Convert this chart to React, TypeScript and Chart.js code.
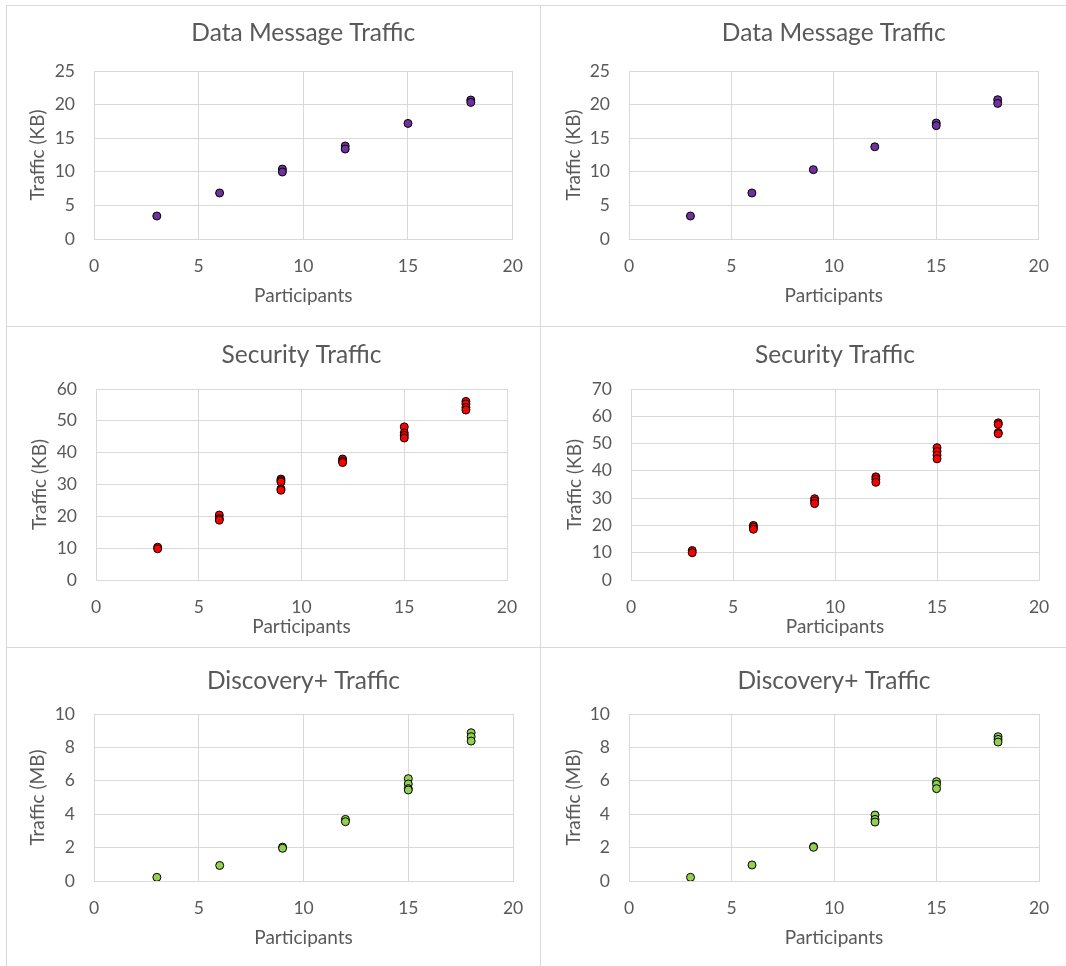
import React, { useEffect, useRef } from "react";
import { Chart, registerables } from "chart.js";

Chart.register(...registerables);

// ---------- data ----------
const participants = [3, 6, 9, 12, 15, 18];

const dataMsgLeft = [[3.42], [6.85], [10.4, 9.97], [13.84, 13.39], [17.2], [20.68, 20.33]];
const dataMsgRight = [[3.42], [6.85], [10.32], [13.72], [17.26, 16.87], [20.73, 20.18]];

const securityLeft = [
  [10.3, 9.8],
  [20.4, 19.3, 18.8],
  [31.7, 31.2, 30.8, 28.6, 28.2],
  [38.0, 37.4, 36.9],
  [48.1, 46.2, 45.4, 44.6],
  [56.1, 55.3, 54.2, 53.4],
];
const securityRight = [
  [10.8, 10.0],
  [20.0, 19.4, 18.6],
  [29.8, 29.0, 28.0],
  [37.8, 36.9, 35.8],
  [48.5, 47.1, 45.7, 44.4],
  [57.6, 57.0, 54.0, 53.6],
];

const discoveryLeft = [
  [0.22],
  [0.93],
  [2.03, 1.96],
  [3.69, 3.55],
  [6.13, 5.81, 5.53, 5.45],
  [8.88, 8.64, 8.38],
];
const discoveryRight = [
  [0.22],
  [0.96],
  [2.06, 2.02],
  [3.95, 3.69, 3.53],
  [5.95, 5.79, 5.53],
  [8.64, 8.48, 8.32],
];

const xTicks = [0, 5, 10, 15, 20];
const titles = ["Data Message Traffic", "Security Traffic", "Discovery+ Traffic"];
const yTitles = ["Traffic (KB)", "Traffic (KB)", "Traffic (MB)"];
const xTitle = "Participants";

// ---------- styling ----------
const FONT = "Lato, 'Open Sans', sans-serif";
const TEXT = "#595959";
const GRID = "#d9d9d9";
const TITLE_SIZE = 24.5;
const TICK_SIZE = 17.5;
const AXIS_TITLE_SIZE = 19;
const LH = 1.2;

function toPoints(vals: number[][]) {
  const pts: { x: number; y: number }[] = [];
  participants.forEach((p, i) => vals[i].forEach((v) => pts.push({ x: p, y: v })));
  return pts;
}

type Panel = {
  title: string;
  yTitle: string;
  values: number[][];
  color: string;
  yMax: number;
  yStep: number;
  canvas: [number, number, number, number]; // left, top, width, height
  plot: [number, number, number, number]; // left, right, top, bottom
  titleCY: number;
  yTitleCX: number;
  xTickCY: number;
  xTitleCY: number;
};

const PURPLE = "#7030A0";
const RED = "#FF0000";
const GREEN = "#92D050";

const panels: Panel[] = [
  {
    title: titles[0], yTitle: yTitles[0], values: dataMsgLeft, color: PURPLE, yMax: 25, yStep: 5,
    canvas: [6, 5, 534, 321], plot: [94.4, 513.8, 71, 239],
    titleCY: 33.3, yTitleCX: 37.9, xTickCY: 266.7, xTitleCY: 296,
  },
  {
    title: titles[0], yTitle: yTitles[0], values: dataMsgRight, color: PURPLE, yMax: 25, yStep: 5,
    canvas: [540, 5, 526, 321], plot: [629.1, 1048.3, 71, 239],
    titleCY: 33.3, yTitleCX: 573.4, xTickCY: 266.7, xTitleCY: 296,
  },
  {
    title: titles[1], yTitle: yTitles[1], values: securityLeft, color: RED, yMax: 60, yStep: 10,
    canvas: [6, 326, 534, 321], plot: [96.1, 507.2, 389.3, 580],
    titleCY: 355, yTitleCX: 39.6, xTickCY: 607.3, xTitleCY: 627.3,
  },
  {
    title: titles[1], yTitle: yTitles[1], values: securityRight, color: RED, yMax: 70, yStep: 10,
    canvas: [540, 326, 526, 321], plot: [630.9, 1042.8, 389.3, 580],
    titleCY: 355, yTitleCX: 574.4, xTickCY: 607.3, xTitleCY: 627.3,
  },
  {
    title: titles[2], yTitle: yTitles[2], values: discoveryLeft, color: GREEN, yMax: 10, yStep: 2,
    canvas: [6, 647, 534, 319], plot: [94.4, 513.8, 714, 881],
    titleCY: 680.7, yTitleCX: 37.9, xTickCY: 908.3, xTitleCY: 937.7,
  },
  {
    title: titles[2], yTitle: yTitles[2], values: discoveryRight, color: GREEN, yMax: 10, yStep: 2,
    canvas: [540, 647, 526, 319], plot: [629.1, 1048.3, 714, 881],
    titleCY: 680.7, yTitleCX: 573.4, xTickCY: 908.3, xTitleCY: 937.7,
  },
];

function buildConfig(p: Panel): any {
  const [cl, ct, cw, ch] = p.canvas;
  const [pl, pr, pt, pb] = p.plot;
  const titleLH = TITLE_SIZE * LH;
  const tickLH = TICK_SIZE * LH;
  const axLH = AXIS_TITLE_SIZE * LH;
  const yAxisW = Math.round(pl - cl);
  const rightPad = Math.round(cl + cw - pr);
  const titleBoxH = Math.round(pt - ct);
  const xAxisH = Math.round(ct + ch - pb);
  const titlePadTop = p.titleCY - ct - titleLH / 2;
  const titlePadBottom = titleBoxH - titlePadTop - titleLH;
  const yTitlePad = p.yTitleCX - cl - axLH / 2;
  const xTickPad = p.xTickCY - pb - tickLH / 2;
  const xTitlePadBottom = ct + ch - p.xTitleCY - axLH / 2;

  return {
    type: "scatter",
    data: {
      datasets: [
        {
          data: toPoints(p.values),
          backgroundColor: p.color,
          borderColor: "#000000",
          borderWidth: 1,
          pointRadius: 4,
          pointHoverRadius: 4,
        },
      ],
    },
    options: {
      responsive: false,
      animation: false,
      devicePixelRatio: 1,
      layout: { padding: { left: 0, top: 0, bottom: 0, right: rightPad } },
      plugins: {
        legend: { display: false },
        tooltip: { enabled: false },
        title: {
          display: true,
          text: p.title,
          fullSize: false,
          color: TEXT,
          font: { family: FONT, size: TITLE_SIZE, weight: "normal", lineHeight: LH },
          padding: { top: titlePadTop, bottom: titlePadBottom },
        },
      },
      scales: {
        x: {
          type: "linear",
          min: 0,
          max: 20,
          afterBuildTicks: (s: any) => {
            s.ticks = xTicks.map((v) => ({ value: v }));
          },
          afterFit: (s: any) => {
            s.height = xAxisH;
          },
          ticks: {
            color: TEXT,
            padding: xTickPad,
            maxRotation: 0,
            font: { family: FONT, size: TICK_SIZE, lineHeight: LH },
          },
          grid: { color: GRID, drawTicks: false, lineWidth: 1 },
          border: { color: GRID, width: 1 },
          title: {
            display: true,
            text: xTitle,
            color: TEXT,
            font: { family: FONT, size: AXIS_TITLE_SIZE, lineHeight: LH },
            padding: { top: 0, bottom: xTitlePadBottom },
          },
        },
        y: {
          type: "linear",
          min: 0,
          max: p.yMax,
          ticks: {
            stepSize: p.yStep,
            color: TEXT,
            padding: 19,
            font: { family: FONT, size: TICK_SIZE, lineHeight: LH },
          },
          afterFit: (s: any) => {
            s.width = yAxisW;
          },
          grid: { color: GRID, drawTicks: false, lineWidth: 1 },
          border: { color: GRID, width: 1 },
          title: {
            display: true,
            text: p.yTitle,
            color: TEXT,
            font: { family: FONT, size: AXIS_TITLE_SIZE, lineHeight: LH },
            padding: { top: yTitlePad, bottom: 0 },
          },
        },
      },
    },
  };
}

function PanelChart({ panel }: { panel: Panel }) {
  const ref = useRef<HTMLCanvasElement | null>(null);
  useEffect(() => {
    if (!ref.current) return;
    const chart = new Chart(ref.current, buildConfig(panel));
    return () => chart.destroy();
  }, [panel]);
  const [l, t, w, h] = panel.canvas;
  return (
    <canvas
      ref={ref}
      width={w}
      height={h}
      style={{ position: "absolute", left: l, top: t, width: w, height: h }}
    />
  );
}

const lineStyle = (l: number, t: number, w: number, h: number): React.CSSProperties => ({
  position: "absolute",
  left: l,
  top: t,
  width: w,
  height: h,
  background: GRID,
});

export default function App() {
  return (
    <div
      style={{
        position: "absolute",
        left: 0,
        top: 0,
        width: 1066,
        height: 966,
        background: "#ffffff",
        overflow: "hidden",
      }}
    >
      <div style={lineStyle(6, 5, 1060, 1)} />
      <div style={lineStyle(6, 326, 1060, 1)} />
      <div style={lineStyle(6, 647, 1060, 1)} />
      <div style={lineStyle(6, 5, 1, 961)} />
      <div style={lineStyle(540, 5, 1, 961)} />
      {panels.map((p, i) => (
        <PanelChart key={i} panel={p} />
      ))}
    </div>
  );
}
